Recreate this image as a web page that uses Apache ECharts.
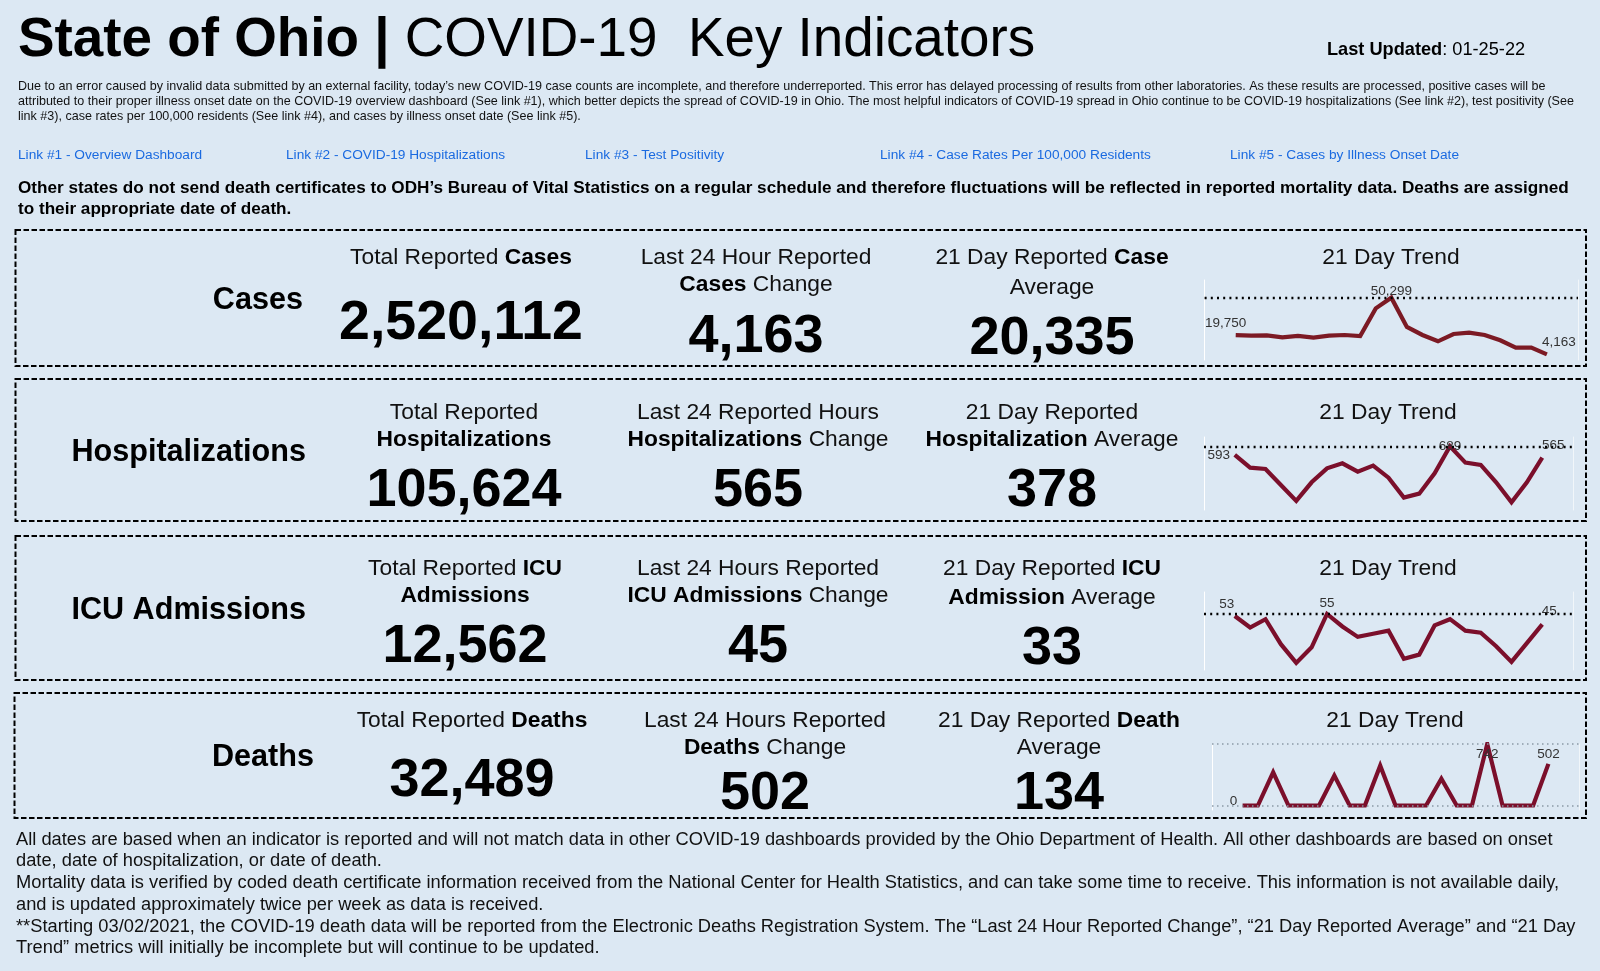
<!DOCTYPE html>
<html>
<head>
<meta charset="utf-8">
<style>
  html, body { margin: 0; padding: 0; background: #dce8f3; }
  #main { width: 1600px; height: 971px; }
</style>
<script src="https://cdn.jsdelivr.net/npm/echarts@6/dist/echarts.min.js"></script>
</head>
<body>
<div id="main"></div>
<script>
var days = [0, 1, 2, 3, 4, 5, 6, 7, 8, 9, 10, 11, 12, 13, 14, 15, 16, 17, 18, 19, 20];

// 21 day trends
var casesTrend = [19750, 19360, 19640, 18000, 19090, 17730, 19360, 19900, 19090, 41600, 50299, 26420, 19900, 14750, 20700, 21800, 19900, 15560, 9590, 9590, 4163];
var hospTrend = [593, 454, 439, 263, 87, 292, 446, 501, 410, 476, 343, 123, 167, 391, 689, 509, 483, 292, 72, 292, 565];
var icuTrend = [53, 42, 50, 26, 8, 23, 55, 43, 33, 36, 39, 12, 16, 44, 50, 39, 37, 24, 9, 27, 45];
var deathTrend = [0, 0, 400, 0, 0, 0, 362, 0, 0, 481, 0, 0, 0, 322, 0, 0, 742, 0, 0, 0, 502];

var rowNames = ['Cases', 'Hospitalizations', 'ICU Admissions', 'Deaths'];
var totals = ['2,520,112', '105,624', '12,562', '32,489'];
var changes = ['4,163', '565', '45', '502'];
var averages = ['20,335', '378', '33', '134'];

var totalHeads = [['Total Reported {b|Cases}'], ['Total Reported', '{b|Hospitalizations}'], ['Total Reported {b|ICU}', '{b|Admissions}'], ['Total Reported {b|Deaths}']];
var changeHeads = [['Last 24 Hour Reported', '{b|Cases} Change'], ['Last 24 Reported Hours', '{b|Hospitalizations} Change'], ['Last 24 Hours Reported', '{b|ICU Admissions} Change'], ['Last 24 Hours Reported', '{b|Deaths} Change']];
var avgHeads = [['21 Day Reported {b|Case}', 'Average'], ['21 Day Reported', '{b|Hospitalization} Average'], ['21 Day Reported {b|ICU}', '{b|Admission} Average'], ['21 Day Reported {b|Death}', 'Average']];

var noteLines = [
    'Due to an error caused by invalid data submitted by an external facility, today\u2019s new COVID-19 case counts are incomplete, and therefore underreported. This error has delayed processing of results from other laboratories. As these results are processed, positive cases will be',
    'attributed to their proper illness onset date on the COVID-19 overview dashboard (See link #1), which better depicts the spread of COVID-19 in Ohio. The most helpful indicators of COVID-19 spread in Ohio continue to be COVID-19 hospitalizations (See link #2), test positivity (See',
    'link #3), case rates per 100,000 residents (See link #4), and cases by illness onset date (See link #5).'
];
var linkLabels = ['Link #1 - Overview Dashboard', 'Link #2 - COVID-19 Hospitalizations', 'Link #3 - Test Positivity', 'Link #4 - Case Rates Per 100,000 Residents', 'Link #5 - Cases by Illness Onset Date'];
var boldLines = [
    'Other states do not send death certificates to ODH\u2019s Bureau of Vital Statistics on a regular schedule and therefore fluctuations will be reflected in reported mortality data. Deaths are assigned',
    'to their appropriate date of death.'
];
var footLines = [
    'All dates are based when an indicator is reported and will not match data in other COVID-19 dashboards provided by the Ohio Department of Health. All other dashboards are based on onset',
    'date, date of hospitalization, or date of death.',
    'Mortality data is verified by coded death certificate information received from the National Center for Health Statistics, and can take some time to receive. This information is not available daily,',
    'and is updated approximately twice per week as data is received.',
    '**Starting 03/02/2021, the COVID-19 death data will be reported from the Electronic Deaths Registration System. The \u201cLast 24 Hour Reported Change\u201d, \u201c21 Day Reported Average\u201d and \u201c21 Day',
    'Trend\u201d metrics will initially be incomplete but will continue to be updated.'
];

var FONT = '"Liberation Sans", Arial, sans-serif';
var BG = '#dce8f3';

// layout of the four boxes
var panels = [
    {
        box: [15.5, 230, 1570.5, 136], name: [303, 301], col1: [461, 258, 324], col2: [756, [258, 285], 337], col3: [1052, [258, 288], 339],
        trendHead: [1391, 258], grid: [1204.6, 280, 373.4, 80], yRange: [-476, 64700], data: casesTrend, color: '#7c1a24', refs: [50299],
        labels: { 0: [-10, -12], 10: [0, -6], 20: [12, -12] }, totalSize: 55.5
    },
    {
        box: [15.5, 379, 1570.5, 142], name: [306, 453], col1: [464, [413, 440], 491], col2: [758, [413, 440], 491], col3: [1052, [413, 440], 491],
        trendHead: [1388, 413], grid: [1204, 437, 369, 73], yRange: [-13, 791], data: hospTrend, color: '#7b0f2b', refs: [689],
        labels: { 0: [-16, 0], 14: [0, 0], 20: [11, -12] }, totalSize: 54
    },
    {
        box: [15.5, 536, 1570.5, 144], name: [306, 611], col1: [465, [569, 596], 647], col2: [758, [569, 596], 647], col3: [1052, [569, 598], 649],
        trendHead: [1388, 569], grid: [1204, 592, 369, 78], yRange: [1.2, 76.1], data: icuTrend, color: '#7b0f2b', refs: [55],
        labels: { 0: [-8, -12], 6: [0, -11], 20: [7, -13] }, totalSize: 54
    },
    {
        box: [14.5, 693, 1571.5, 125], name: [314, 758], col1: [472, 721, 781], col2: [765, [721, 748], 794], col3: [1059, [721, 748], 794],
        trendHead: [1395, 721], grid: [1212, 744, 367, 66], yRange: [-54, 742], data: deathTrend, color: '#7b0f2b', refs: [742, 0],
        labels: { 0: [-9, -4], 16: [0, 10], 20: [0, -10] }, totalSize: 54
    }
];

var chart = echarts.init(document.getElementById('main'), null, { renderer: 'canvas' });

// plain text helper, bold parts go through the rich style b
function txt(x, y, text, size, opts) {
    opts = opts || {};
    return {
        type: 'text',
        silent: true,
        style: {
            text: text,
            x: x,
            y: y,
            align: opts.align || 'left',
            verticalAlign: 'middle',
            fontFamily: FONT,
            fontSize: size,
            fontWeight: opts.weight || 'normal',
            fill: opts.fill || '#111',
            rich: {
                b: { fontFamily: FONT, fontSize: size, fontWeight: 'bold', fill: opts.fill || '#000' }
            }
        }
    };
}

function buildGraphics() {
    var out = [];

    out.push(txt(18, 41, '{b|State of Ohio |} COVID-19  Key Indicators', 54.8, { fill: '#000' }));
    out.push(txt(1327, 50, '{b|Last Updated}: 01-25-22', 18.2, { fill: '#000' }));

    noteLines.forEach(function (line, i) {
        out.push(txt(18, [87, 102, 117][i], line, 12.56));
    });
    var linkX = [18, 286, 585, 880, 1230];
    linkLabels.forEach(function (label, i) {
        out.push(txt(linkX[i], 155, label, 13.7, { fill: '#1a6ae0' }));
    });
    boldLines.forEach(function (line, i) {
        out.push(txt(18, [188, 209][i], line, 17.15, { weight: 'bold', fill: '#000' }));
    });
    footLines.forEach(function (line, i) {
        out.push(txt(16, [840, 861, 883, 905, 927, 948][i], line, 18.3));
    });

    panels.forEach(function (p, r) {
        out.push({
            type: 'rect',
            silent: true,
            shape: { x: p.box[0], y: p.box[1], width: p.box[2], height: p.box[3] },
            style: { fill: 'none', stroke: '#000', lineWidth: 2, lineDash: [5.5, 2.5] }
        });
        out.push(txt(p.name[0], p.name[1], rowNames[r], 30.6, { align: 'right', weight: 'bold', fill: '#000' }));

        [[p.col1, totalHeads, totals, p.totalSize], [p.col2, changeHeads, changes, 54], [p.col3, avgHeads, averages, 54]].forEach(function (c) {
            var pos = c[0];
            var ys = [].concat(pos[1]);
            c[1][r].forEach(function (head, i) {
                out.push(txt(pos[0], ys[i], head, 22.8, { align: 'center' }));
            });
            out.push(txt(pos[0], pos[2], c[2][r], c[3], { align: 'center', weight: 'bold', fill: '#000' }));
        });
        out.push(txt(p.trendHead[0], p.trendHead[1], '21 Day Trend', 22.8, { align: 'center' }));
    });
    return out;
}

var grids = [], xAxes = [], yAxes = [], series = [];
panels.forEach(function (p, r) {
    grids.push({ left: p.grid[0], top: p.grid[1], width: p.grid[2], height: p.grid[3], containLabel: false });
    xAxes.push({ type: 'value', gridIndex: r, min: -2, max: 22, show: false });
    var whiteLine = { show: true, onZero: false, lineStyle: { color: '#ffffff', width: 1 } };
    yAxes.push({
        type: 'value', gridIndex: r, min: p.yRange[0], max: p.yRange[1], position: 'left',
        axisLine: whiteLine, axisTick: { show: false }, axisLabel: { show: false }, splitLine: { show: false }
    });
    yAxes.push({
        type: 'value', gridIndex: r, min: p.yRange[0], max: p.yRange[1], position: 'right',
        axisLine: { show: true, onZero: false, lineStyle: { color: '#ffffff', width: 1, opacity: 0.6 } },
        axisTick: { show: false }, axisLabel: { show: false }, splitLine: { show: false }
    });

    var isDeaths = r === 3;
    series.push({
        type: 'line',
        xAxisIndex: r,
        yAxisIndex: r * 2,
        symbol: 'circle',
        symbolSize: 0.01,
        silent: true,
        animation: false,
        lineStyle: { color: p.color, width: 4.2, join: 'miter' },
        itemStyle: { color: p.color },
        data: days.map(function (d, i) {
            var off = p.labels[i];
            return {
                value: [d, p.data[i]],
                label: {
                    show: !!off,
                    position: 'inside',
                    offset: off || [0, 0],
                    fontFamily: FONT,
                    fontSize: 13.5,
                    color: '#333',
                    formatter: function (params) {
                        return echarts.format.addCommas(params.value[1]);
                    }
                }
            };
        }),
        markLine: {
            silent: true,
            symbol: 'none',
            animation: false,
            label: { show: false },
            lineStyle: isDeaths
                ? { type: [1.5, 3.5], color: '#8b99a6', width: 1.5 }
                : { type: [2, 4.2], color: '#000', width: 2.4 },
            data: p.refs.map(function (v) { return { yAxis: v }; })
        }
    });
});

chart.setOption({
    animation: false,
    backgroundColor: BG,
    grid: grids,
    xAxis: xAxes,
    yAxis: yAxes,
    series: series,
    graphic: { elements: buildGraphics() }
});
</script>
</body>
</html>
